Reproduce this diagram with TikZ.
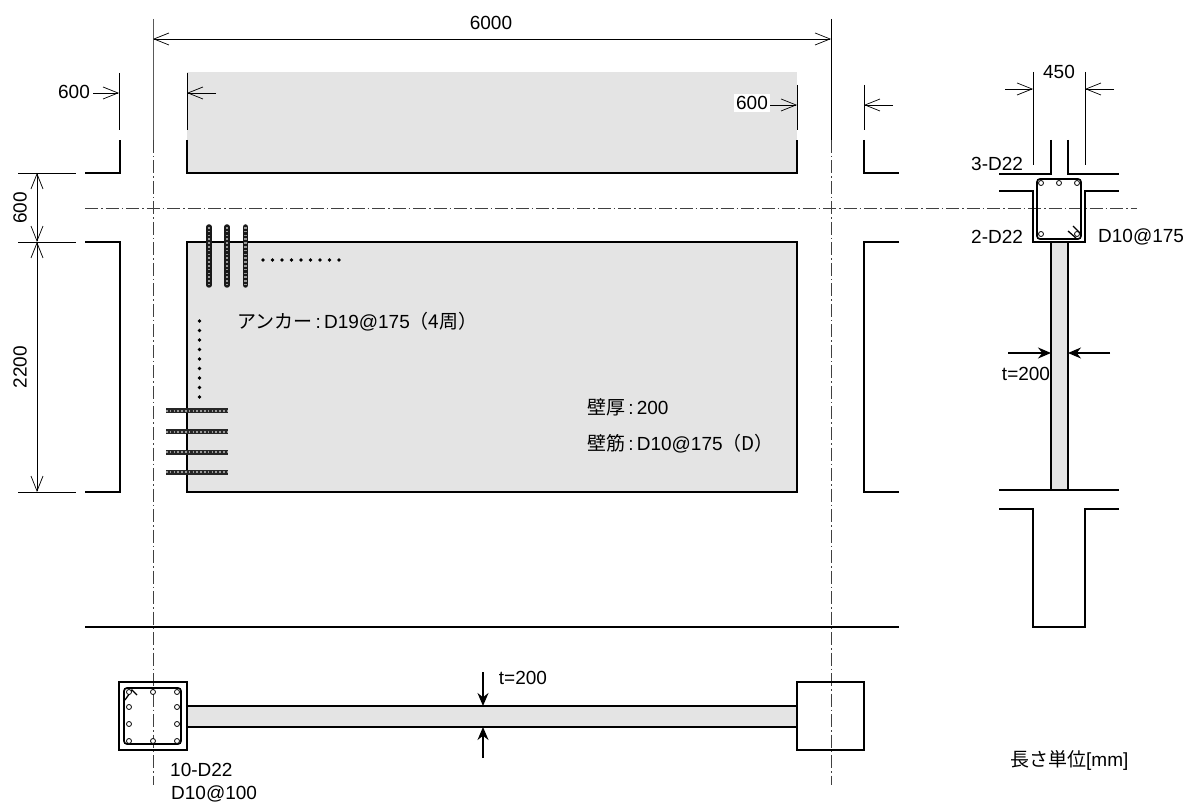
\documentclass[tikz,border=0pt]{standalone}
\usepackage{fontspec}
\setmainfont{Liberation Sans}
\newfontfamily\cjk{Noto Sans CJK JP}
\usetikzlibrary{arrows.meta}
\definecolor{wallgray}{gray}{0.895}
\tikzset{
	wall/.style={line width=1.7pt},
	thinline/.style={line width=0.8pt},
	chain/.style={line width=0.9pt, black!75, dash pattern=on 13pt off 3pt on 1.5pt off 3pt},
	dim/.style={thinline, {Straight Barb[length=15pt,width=12pt,line width=0.7pt]}-{Straight Barb[length=15pt,width=12pt,line width=0.7pt]}},
	dimto/.style={thinline, -{Straight Barb[length=15pt,width=12pt,line width=0.7pt]}},
	thick arrow/.style={line width=1.3pt, -{Stealth[length=13pt,width=11pt]}},
	hoop/.style={line width=1.7pt, rounded corners=3pt},
	bar/.style={line width=0.8pt, fill=white},
	anchorh/.style={line width=5pt, black!85, postaction={draw, black!40, line width=1.8pt, line cap=butt, dash pattern=on 1.6pt off 2.2pt}},
	anchorv/.style={line width=5.5pt, black!90, line cap=round, postaction={draw, black!40, line width=2.2pt, line cap=butt, dash pattern=on 1.6pt off 2.2pt}},
	dots/.style={line width=3.8pt, line cap=round, dash pattern=on 0pt off 9.5pt},
	lbl/.style={inner sep=0pt, font=\fontsize{19}{19}\selectfont},
}
\begin{document}
\begin{tikzpicture}[x=1pt, y=-1pt]
	\useasboundingbox (0, 0) rectangle (1187, 802);

	\fill[wallgray] (187, 72) rectangle (797, 173);
	\fill[wallgray] (187, 242) rectangle (797, 492);
	\fill[wallgray] (187, 706) rectangle (797, 727);
	\fill[wallgray] (1051, 242) rectangle (1068, 490);

	\draw[thinline, black!65] (153, 19) -- (153, 140);
	\draw[thinline] (831, 19) -- (831, 140);
	\draw[chain] (153, 140) -- (153, 785);
	\draw[chain] (831, 140) -- (831, 785);
	\draw[chain] (85, 208) -- (1137, 208);

	\draw[wall] (85, 173) -- (120, 173) -- (120, 140);
	\draw[wall] (187, 140) -- (187, 173) -- (797, 173) -- (797, 140);
	\draw[wall] (864, 140) -- (864, 173) -- (899, 173);
	\draw[wall] (85, 242) -- (120, 242) -- (120, 492) -- (85, 492);
	\draw[wall] (187, 242) rectangle (797, 492);
	\draw[wall] (899, 242) -- (864, 242) -- (864, 492) -- (899, 492);
	\draw[wall] (85, 627) -- (899, 627);

	\draw[thinline] (119, 73) -- (119, 130);
	\draw[thinline] (187, 73) -- (187, 130);
	\draw[thinline] (797, 85) -- (797, 130);
	\draw[thinline] (864, 85) -- (864, 130);
	\draw[thinline] (18, 173) -- (76, 173);
	\draw[thinline] (18, 242) -- (76, 242);
	\draw[thinline] (18, 492) -- (76, 492);

	\draw[dim] (153, 39) -- (831, 39);
	\node[lbl] (lenall) at (491, 23) {6000};
	\node[lbl] (leftout) at (74, 92) {600};
	\draw[dimto] (leftout.east) ++(3, 1) -- (119, 93);
	\draw[dimto] (216, 93) -- (187, 93);
	\node[lbl, fill=white, inner sep=2pt] (rightin) at (752, 103) {600};
	\draw[dimto] (rightin.east) ++(0, 2) -- (797, 105);
	\draw[dimto] (893, 105) -- (864, 105);
	\draw[dim] (37, 173) -- (37, 242);
	\draw[dim] (37, 242) -- (37, 492);
	\node[lbl, rotate=90] (beamh) at (20, 208) {600};
	\node[lbl, rotate=90] (wallh) at (20, 367) {2200};

	\draw[anchorv] (209, 227) -- (209, 285);
	\draw[anchorv] (227, 227) -- (227, 285);
	\draw[anchorv] (245.5, 227) -- (245.5, 285);
	\draw[anchorh] (166, 411) -- (228, 411);
	\draw[anchorh] (166, 432) -- (228, 432);
	\draw[anchorh] (166, 452) -- (228, 452);
	\draw[anchorh] (166, 472) -- (228, 472);
	\draw[dots] (263, 260) -- (341, 260);
	\draw[dots] (199.5, 321) -- (199.5, 399);

	\node[lbl, anchor=west] (anchortext) at (237, 322) {{\cjk アンカー}\,:\,D19@175{\cjk （4周）}};
	\node[lbl, anchor=west] (thicktext) at (587, 407) {{\cjk 壁厚}\,:\,200};
	\node[lbl, anchor=west] (rebartext) at (587, 444) {{\cjk 壁筋}\,:\,D10@175{\cjk （D）}};

	\draw[wall] (119, 682) rectangle (187, 750);
	\draw[wall] (797, 682) rectangle (864, 750);
	\draw[wall] (187, 706) -- (797, 706);
	\draw[wall] (187, 727) -- (797, 727);
	\draw[hoop] (124, 688) rectangle (181, 744);
	\draw[thinline, line width=1.3pt] (125, 700) -- (132, 690) -- (137, 695);
	\draw[bar] (129, 692) circle (2.5) (153, 692) circle (2.5) (177, 692) circle (2.5)
	(129, 707) circle (2.5) (177, 707) circle (2.5)
	(129, 724) circle (2.5) (177, 724) circle (2.5)
	(129, 741) circle (2.5) (153, 741) circle (2.5) (177, 741) circle (2.5);
	\draw[thick arrow] (483, 672) -- (483, 706);
	\draw[thick arrow] (483, 758) -- (483, 727);
	\node[lbl] (wallt) at (523, 678) {t=200};
	\node[lbl, anchor=west] (colbars) at (170, 770) {10-D22};
	\node[lbl, anchor=west] (colhoop) at (171, 794) {D10@100};

	\draw[wall] (1051, 140) -- (1051, 174) -- (999, 174);
	\draw[wall] (1068, 140) -- (1068, 174) -- (1119, 174);
	\draw[wall] (999, 191) -- (1033, 191) -- (1033, 242) -- (1085, 242) -- (1085, 191) -- (1119, 191);
	\draw[wall] (1051, 242) -- (1051, 490);
	\draw[wall] (1068, 242) -- (1068, 490);
	\draw[wall] (999, 490) -- (1119, 490);
	\draw[wall] (999, 509) -- (1033, 509) -- (1033, 627) -- (1085, 627) -- (1085, 509) -- (1119, 509);
	\draw[hoop] (1037, 179) rectangle (1081, 239);
	\draw[thinline, line width=1.3pt] (1068, 231) -- (1076, 238);
	\draw[thinline, line width=1.3pt] (1073, 226) -- (1080, 233);
	\draw[bar] (1041, 183) circle (2.5) (1059, 183) circle (2.5) (1077, 183) circle (2.5)
	(1041, 234) circle (2.5) (1077, 234) circle (2.5);

	\draw[thinline] (1033, 72) -- (1033, 165);
	\draw[thinline] (1085, 72) -- (1085, 165);
	\draw[dimto] (1005, 89) -- (1033, 89);
	\draw[dimto] (1114, 89) -- (1085, 89);
	\node[lbl] (colw) at (1059, 72) {450};
	\node[lbl, anchor=west] (topbars) at (971, 164) {3-D22};
	\node[lbl, anchor=west] (botbars) at (971, 237) {2-D22};
	\node[lbl, anchor=west] (beamhoop) at (1098, 237) {D10@175};
	\draw[thick arrow] (1008, 353) -- (1051, 353);
	\draw[thick arrow] (1110, 353) -- (1068, 353);
	\node[lbl] (sect) at (1026, 374) {t=200};
	\node[lbl, anchor=west] (unit) at (1010, 760) {{\cjk 長さ単位}[mm]};
\end{tikzpicture}
\end{document}
